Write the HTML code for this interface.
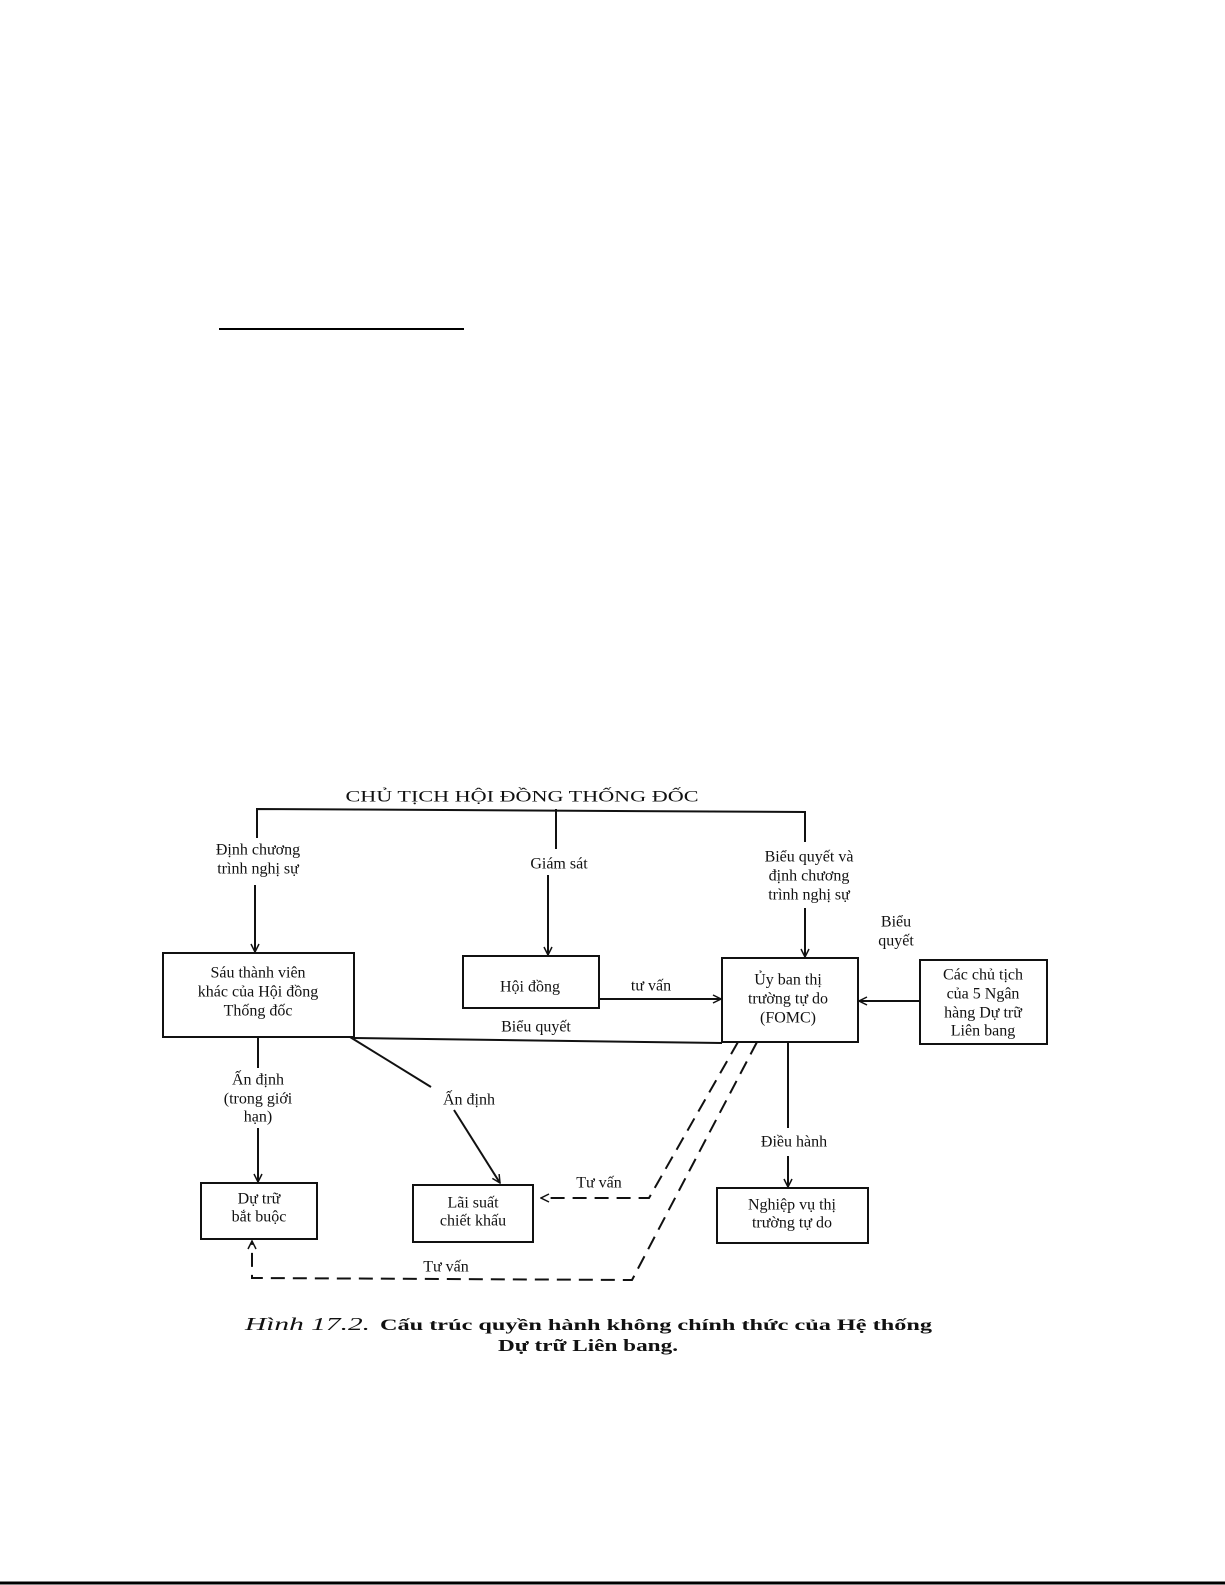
<!DOCTYPE html>
<html><head><meta charset="utf-8"><style>
html,body{margin:0;padding:0;background:#fff}
svg{display:block}
text{font-family:"Liberation Serif",serif;font-size:16px;fill:#111}
</style></head><body>
<svg width="1225" height="1585" viewBox="0 0 1225 1585" xmlns="http://www.w3.org/2000/svg">
<defs>
<marker id="a" markerWidth="10" markerHeight="10" refX="9" refY="5" orient="auto" markerUnits="userSpaceOnUse">
<path d="M1,1 L9,5 L1,9" fill="none" stroke="#111" stroke-width="1.5"/>
</marker>
</defs>
<line x1="219" y1="329" x2="464" y2="329" stroke="#000" stroke-width="2"/>
<line x1="0" y1="1583" x2="1225" y2="1583" stroke="#000" stroke-width="3"/>

<g stroke="#111" stroke-width="2" fill="none">
<polyline points="257,838 257,809 805,812 805,842"/>
<line x1="556" y1="809" x2="556" y2="849"/>
<line x1="255" y1="885" x2="255" y2="952" marker-end="url(#a)"/>
<line x1="548" y1="875" x2="548" y2="955" marker-end="url(#a)"/>
<line x1="805" y1="908" x2="805" y2="957" marker-end="url(#a)"/>
<rect x="163" y="953" width="191" height="84"/>
<rect x="463" y="956" width="136" height="52"/>
<rect x="722" y="958" width="136" height="84"/>
<rect x="920" y="960" width="127" height="84"/>
<line x1="599" y1="999" x2="721" y2="999" marker-end="url(#a)"/>
<line x1="920" y1="1001" x2="859" y2="1001" marker-end="url(#a)"/>
<line x1="354" y1="1038" x2="722" y2="1043"/>
<line x1="258" y1="1037" x2="258" y2="1068"/>
<line x1="258" y1="1128" x2="258" y2="1182" marker-end="url(#a)"/>
<line x1="350" y1="1037" x2="431" y2="1087"/>
<line x1="454" y1="1110" x2="500" y2="1183" marker-end="url(#a)"/>
<rect x="201" y="1183" width="116" height="56"/>
<rect x="413" y="1185" width="120" height="57"/>
<rect x="717" y="1188" width="151" height="55"/>
<line x1="788" y1="1042" x2="788" y2="1128"/>
<line x1="788" y1="1156" x2="788" y2="1187" marker-end="url(#a)"/>
<polyline points="738,1042 649,1198 541,1198" stroke-dasharray="14,8" marker-end="url(#a)"/>
<polyline points="757,1042 632,1280 252,1278 252,1241" stroke-dasharray="14,8" marker-end="url(#a)"/>
</g>

<g text-anchor="middle" dominant-baseline="central">
<text x="522" y="797" textLength="353" lengthAdjust="spacingAndGlyphs">CHỦ TỊCH HỘI ĐỒNG THỐNG ĐỐC</text>
<text x="258" y="850">Định chương</text>
<text x="258" y="869">trình nghị sự</text>
<text x="559" y="864">Giám sát</text>
<text x="809" y="857">Biểu quyết và</text>
<text x="809" y="876">định chương</text>
<text x="809" y="895">trình nghị sự</text>
<text x="896" y="922">Biểu</text>
<text x="896" y="941">quyết</text>
<text x="258" y="973">Sáu thành viên</text>
<text x="258" y="992">khác của Hội đồng</text>
<text x="258" y="1011">Thống đốc</text>
<text x="530" y="987">Hội đồng</text>
<text x="651" y="986">tư vấn</text>
<text x="788" y="980">Ủy ban thị</text>
<text x="788" y="999">trường tự do</text>
<text x="788" y="1018">(FOMC)</text>
<text x="983" y="975">Các chủ tịch</text>
<text x="983" y="994">của 5 Ngân</text>
<text x="983" y="1013">hàng Dự trữ</text>
<text x="983" y="1031">Liên bang</text>
<text x="536" y="1027">Biểu quyết</text>
<text x="258" y="1080">Ấn định</text>
<text x="258" y="1099">(trong giới</text>
<text x="258" y="1117">hạn)</text>
<text x="469" y="1100">Ấn định</text>
<text x="794" y="1142">Điều hành</text>
<text x="599" y="1183">Tư vấn</text>
<text x="446" y="1267">Tư vấn</text>
<text x="259" y="1199">Dự trữ</text>
<text x="259" y="1217">bắt buộc</text>
<text x="473" y="1203">Lãi suất</text>
<text x="473" y="1221">chiết khấu</text>
<text x="792" y="1205">Nghiệp vụ thị</text>
<text x="792" y="1223">trường tự do</text>
</g>
<text x="245" y="1330" style="font-style:italic;font-size:18px" textLength="125" lengthAdjust="spacingAndGlyphs">Hình 17.2.</text>
<text x="380" y="1330" style="font-weight:bold;font-size:16px" textLength="552" lengthAdjust="spacingAndGlyphs">Cấu trúc quyền hành không chính thức của Hệ thống</text>
<text x="498" y="1351" style="font-weight:bold;font-size:17px" textLength="180" lengthAdjust="spacingAndGlyphs">Dự trữ Liên bang.</text>
</svg>
</body></html>
